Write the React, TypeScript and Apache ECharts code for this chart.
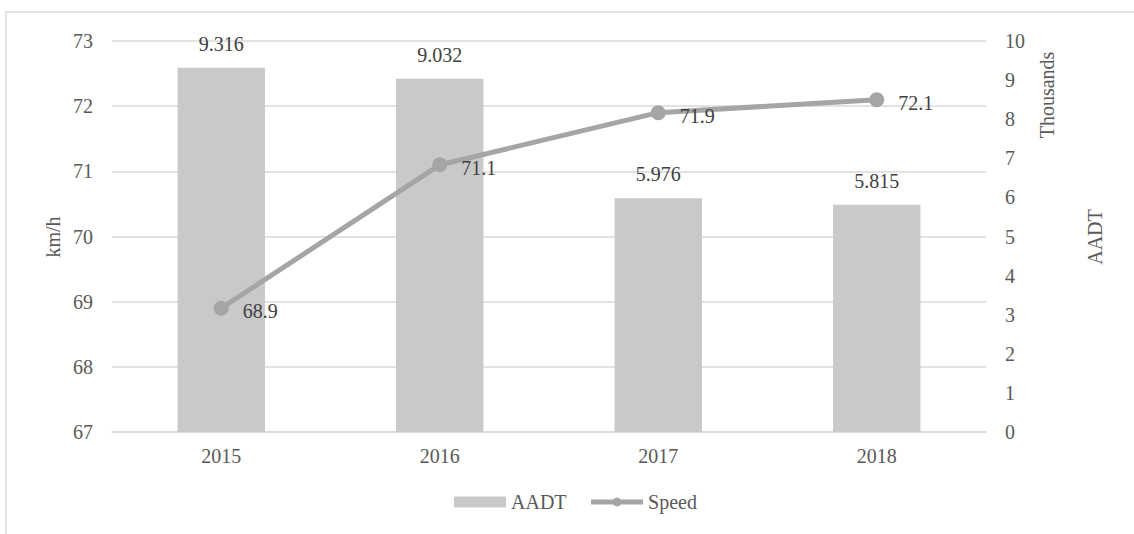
import React, { useEffect, useRef } from "react";
import * as echarts from "echarts";

const years = ["2015", "2016", "2017", "2018"];
const aadtThousands = [9.316, 9.032, 5.976, 5.815];
const speedKmh = [68.9, 71.1, 71.9, 72.1];
const aadtLabels = ["9.316", "9.032", "5.976", "5.815"];

const FONT = "Liberation Serif";
const AXIS_TEXT = "#595959";
const DATA_TEXT = "#404040";
const GRID = "#d9d9d9";
const LINE = "#a5a5a5";

export default function App() {
  const ref = useRef<HTMLDivElement>(null);
  useEffect(() => {
    if (!ref.current) return;
    const chart = echarts.init(ref.current, undefined, { renderer: "svg" });
    chart.setOption({
      animation: false,
      backgroundColor: "#ffffff",
      textStyle: { fontFamily: FONT },
      grid: { left: 112, right: 148, top: 41, bottom: 102, containLabel: false },
      legend: {
        left: 454,
        top: 492,
        padding: 0,
        itemWidth: 52,
        itemHeight: 11,
        itemGap: 22,
        textStyle: { fontFamily: FONT, fontSize: 20, color: AXIS_TEXT },
        data: [
          { name: "AADT", icon: "rect" },
          { name: "Speed", lineStyle: { width: 5, color: LINE }, itemStyle: { color: LINE } },
        ],
      },
      xAxis: {
        type: "category",
        data: years,
        axisLine: { show: true, lineStyle: { color: GRID, width: 1.5 } },
        axisTick: { show: false },
        axisLabel: { fontFamily: FONT, fontSize: 20, color: AXIS_TEXT, margin: 14 },
      },
      yAxis: [
        {
          type: "value",
          min: 67,
          max: 73,
          interval: 1,
          position: "left",
          axisLine: { show: false },
          axisTick: { show: false },
          axisLabel: { fontFamily: FONT, fontSize: 20, color: AXIS_TEXT, margin: 19 },
          splitLine: { show: true, lineStyle: { color: GRID, width: 1.5 } },
        },
        {
          type: "value",
          min: 0,
          max: 10,
          interval: 1,
          position: "right",
          axisLine: { show: false },
          axisTick: { show: false },
          axisLabel: { fontFamily: FONT, fontSize: 20, color: AXIS_TEXT, margin: 19 },
          splitLine: { show: false },
        },
      ],
      series: [
        {
          name: "AADT",
          type: "bar",
          yAxisIndex: 1,
          data: aadtThousands,
          barWidth: "40%",
          itemStyle: { color: "#c9c9c9" },
          label: {
            show: true,
            position: "top",
            distance: 14,
            fontFamily: FONT,
            fontSize: 20,
            color: DATA_TEXT,
            formatter: (p: any) => aadtLabels[p.dataIndex],
          },
        },
        {
          name: "Speed",
          type: "line",
          yAxisIndex: 0,
          data: speedKmh,
          symbol: "circle",
          symbolSize: 15,
          lineStyle: { color: LINE, width: 5 },
          itemStyle: { color: LINE },
          label: {
            show: true,
            position: "right",
            distance: 14,
            offset: [0, 3],
            fontFamily: FONT,
            fontSize: 20,
            color: DATA_TEXT,
            formatter: (p: any) => p.value.toFixed(1),
          },
        },
      ],
      graphic: [
        {
          type: "rect",
          shape: { x: 6, y: 12, width: 1300, height: 700 },
          style: { fill: "none", stroke: GRID, lineWidth: 1.5 },
          silent: true,
        },
        {
          type: "text",
          x: 53,
          y: 237,
          rotation: Math.PI / 2,
          style: {
            text: "km/h",
            fontFamily: FONT,
            fontSize: 20,
            fill: AXIS_TEXT,
            align: "center",
            verticalAlign: "middle",
          },
        },
        {
          type: "text",
          x: 1047,
          y: 95,
          rotation: Math.PI / 2,
          style: {
            text: "Thousands",
            fontFamily: FONT,
            fontSize: 20,
            fill: AXIS_TEXT,
            align: "center",
            verticalAlign: "middle",
          },
        },
        {
          type: "text",
          x: 1095,
          y: 237,
          rotation: Math.PI / 2,
          style: {
            text: "AADT",
            fontFamily: FONT,
            fontSize: 20,
            fill: AXIS_TEXT,
            align: "center",
            verticalAlign: "middle",
          },
        },
      ],
    });
    return () => chart.dispose();
  }, []);
  return (
    <div
      ref={ref}
      style={{ position: "fixed", left: 0, top: 0, width: 1134, height: 534, background: "#fff" }}
    />
  );
}
